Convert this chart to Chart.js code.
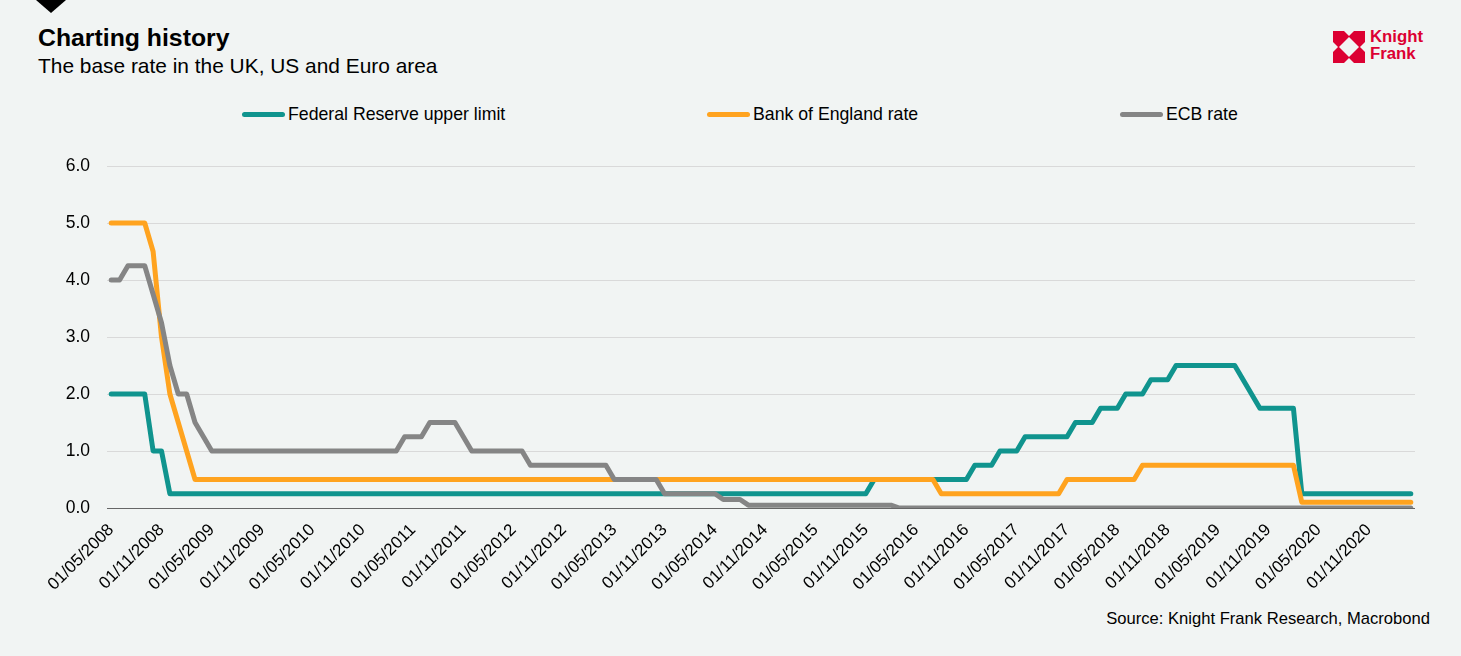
<!DOCTYPE html>
<html>
<head>
<meta charset="utf-8">
<script src="https://cdn.jsdelivr.net/npm/chart.js@4.4.1/dist/chart.umd.min.js"></script>
<style>
  html, body { margin: 0; padding: 0; background: #F1F4F3; }
  body { width: 1461px; height: 656px; position: relative; overflow: hidden;
         font-family: "Liberation Sans", Arial, sans-serif; color: #000; }
  #chart { position: absolute; left: 0; top: 0; }
  .title { position: absolute; left: 38px; top: 24px; font-size: 24.8px; font-weight: bold; white-space: nowrap; }
  .subtitle { position: absolute; left: 38px; top: 54px; font-size: 20.9px; white-space: nowrap; }
  .legend-item { position: absolute; top: 103px; height: 22px; display: flex; align-items: center;
                 font-size: 17.7px; white-space: nowrap; }
  .legend-item .sw { width: 43px; height: 5px; border-radius: 3px; margin-right: 3px; }
  .source { position: absolute; right: 31px; top: 609px; font-size: 16.6px; white-space: nowrap; }
  .tri { position: absolute; left: 0; top: 0; }
  .logo { position: absolute; left: 1333px; top: 31px; }
  .logo-text { position: absolute; left: 1370px; top: 28px; color: #DC0032; font-weight: bold;
               font-size: 16.8px; line-height: 17px; }
</style>
</head>
<body>
<svg class="tri" width="80" height="20"><polygon points="36,0 66,0 51,13" fill="#000"/></svg>
<div class="title">Charting history</div>
<div class="subtitle">The base rate in the UK, US and Euro area</div>
<svg class="logo" width="32" height="32" viewBox="0 0 32 32">
  <rect x="0" y="0" width="32" height="32" fill="#DC0032"/>
  <polygon points="16,6 26,16 16,26 6,16" fill="#F1F4F3"/>
  <polygon points="11,0 21,0 16,5" fill="#F1F4F3"/>
  <polygon points="11,32 21,32 16,27" fill="#F1F4F3"/>
  <polygon points="0,11 0,21 5,16" fill="#F1F4F3"/>
  <polygon points="32,11 32,21 27,16" fill="#F1F4F3"/>
</svg>
<div class="logo-text">Knight<br>Frank</div>
<div id="legend"></div>
<div class="source">Source: Knight Frank Research, Macrobond</div>
<canvas id="chart" width="1461" height="656"></canvas>
<script>
// ---- Data (monthly, May 2008 - Apr 2021) ----
const seriesNames = ['Federal Reserve upper limit', 'Bank of England rate', 'ECB rate'];
const seriesColors = ['#10948E', '#FFA31F', '#858585'];
const shownLabelMonths = ['05', '11'];
const yTicks = [0, 1, 2, 3, 4, 5, 6];

const fedRate = [
  // 2008 May-Dec
  2.0, 2.0, 2.0, 2.0, 2.0, 1.0, 1.0, 0.25,
  // 2009
  0.25, 0.25, 0.25, 0.25, 0.25, 0.25, 0.25, 0.25, 0.25, 0.25, 0.25, 0.25,
  // 2010
  0.25, 0.25, 0.25, 0.25, 0.25, 0.25, 0.25, 0.25, 0.25, 0.25, 0.25, 0.25,
  // 2011
  0.25, 0.25, 0.25, 0.25, 0.25, 0.25, 0.25, 0.25, 0.25, 0.25, 0.25, 0.25,
  // 2012
  0.25, 0.25, 0.25, 0.25, 0.25, 0.25, 0.25, 0.25, 0.25, 0.25, 0.25, 0.25,
  // 2013
  0.25, 0.25, 0.25, 0.25, 0.25, 0.25, 0.25, 0.25, 0.25, 0.25, 0.25, 0.25,
  // 2014
  0.25, 0.25, 0.25, 0.25, 0.25, 0.25, 0.25, 0.25, 0.25, 0.25, 0.25, 0.25,
  // 2015
  0.25, 0.25, 0.25, 0.25, 0.25, 0.25, 0.25, 0.25, 0.25, 0.25, 0.25, 0.5,
  // 2016
  0.5, 0.5, 0.5, 0.5, 0.5, 0.5, 0.5, 0.5, 0.5, 0.5, 0.5, 0.75,
  // 2017
  0.75, 0.75, 1.0, 1.0, 1.0, 1.25, 1.25, 1.25, 1.25, 1.25, 1.25, 1.5,
  // 2018
  1.5, 1.5, 1.75, 1.75, 1.75, 2.0, 2.0, 2.0, 2.25, 2.25, 2.25, 2.5,
  // 2019
  2.5, 2.5, 2.5, 2.5, 2.5, 2.5, 2.5, 2.25, 2.0, 1.75, 1.75, 1.75,
  // 2020
  1.75, 1.75, 0.25, 0.25, 0.25, 0.25, 0.25, 0.25, 0.25, 0.25, 0.25, 0.25,
  // 2021 Jan-Apr
  0.25, 0.25, 0.25, 0.25
];

const boeRate = [
  // 2008 May-Dec
  5.0, 5.0, 5.0, 5.0, 5.0, 4.5, 3.0, 2.0,
  // 2009
  1.5, 1.0, 0.5, 0.5, 0.5, 0.5, 0.5, 0.5, 0.5, 0.5, 0.5, 0.5,
  // 2010
  0.5, 0.5, 0.5, 0.5, 0.5, 0.5, 0.5, 0.5, 0.5, 0.5, 0.5, 0.5,
  // 2011
  0.5, 0.5, 0.5, 0.5, 0.5, 0.5, 0.5, 0.5, 0.5, 0.5, 0.5, 0.5,
  // 2012
  0.5, 0.5, 0.5, 0.5, 0.5, 0.5, 0.5, 0.5, 0.5, 0.5, 0.5, 0.5,
  // 2013
  0.5, 0.5, 0.5, 0.5, 0.5, 0.5, 0.5, 0.5, 0.5, 0.5, 0.5, 0.5,
  // 2014
  0.5, 0.5, 0.5, 0.5, 0.5, 0.5, 0.5, 0.5, 0.5, 0.5, 0.5, 0.5,
  // 2015
  0.5, 0.5, 0.5, 0.5, 0.5, 0.5, 0.5, 0.5, 0.5, 0.5, 0.5, 0.5,
  // 2016
  0.5, 0.5, 0.5, 0.5, 0.5, 0.5, 0.5, 0.25, 0.25, 0.25, 0.25, 0.25,
  // 2017
  0.25, 0.25, 0.25, 0.25, 0.25, 0.25, 0.25, 0.25, 0.25, 0.25, 0.5, 0.5,
  // 2018
  0.5, 0.5, 0.5, 0.5, 0.5, 0.5, 0.5, 0.75, 0.75, 0.75, 0.75, 0.75,
  // 2019
  0.75, 0.75, 0.75, 0.75, 0.75, 0.75, 0.75, 0.75, 0.75, 0.75, 0.75, 0.75,
  // 2020
  0.75, 0.75, 0.1, 0.1, 0.1, 0.1, 0.1, 0.1, 0.1, 0.1, 0.1, 0.1,
  // 2021 Jan-Apr
  0.1, 0.1, 0.1, 0.1
];

const ecbRate = [
  // 2008 May-Dec
  4.0, 4.0, 4.25, 4.25, 4.25, 3.75, 3.25, 2.5,
  // 2009
  2.0, 2.0, 1.5, 1.25, 1.0, 1.0, 1.0, 1.0, 1.0, 1.0, 1.0, 1.0,
  // 2010
  1.0, 1.0, 1.0, 1.0, 1.0, 1.0, 1.0, 1.0, 1.0, 1.0, 1.0, 1.0,
  // 2011
  1.0, 1.0, 1.0, 1.25, 1.25, 1.25, 1.5, 1.5, 1.5, 1.5, 1.25, 1.0,
  // 2012
  1.0, 1.0, 1.0, 1.0, 1.0, 1.0, 0.75, 0.75, 0.75, 0.75, 0.75, 0.75,
  // 2013
  0.75, 0.75, 0.75, 0.75, 0.5, 0.5, 0.5, 0.5, 0.5, 0.5, 0.25, 0.25,
  // 2014
  0.25, 0.25, 0.25, 0.25, 0.25, 0.15, 0.15, 0.15, 0.05, 0.05, 0.05, 0.05,
  // 2015
  0.05, 0.05, 0.05, 0.05, 0.05, 0.05, 0.05, 0.05, 0.05, 0.05, 0.05, 0.05,
  // 2016
  0.05, 0.05, 0.0, 0.0, 0.0, 0.0, 0.0, 0.0, 0.0, 0.0, 0.0, 0.0,
  // 2017
  0, 0, 0, 0, 0, 0, 0, 0, 0, 0, 0, 0,
  // 2018
  0, 0, 0, 0, 0, 0, 0, 0, 0, 0, 0, 0,
  // 2019
  0, 0, 0, 0, 0, 0, 0, 0, 0, 0, 0, 0,
  // 2020
  0, 0, 0, 0, 0, 0, 0, 0, 0, 0, 0, 0,
  // 2021 Jan-Apr
  0, 0, 0, 0
];

// Category labels: first of each month, dd/mm/yyyy
const categories = [];
for (let k = 0; k < fedRate.length; k++) {
  const m0 = 4 + k;               // May 2008 -> month index 4
  const yr = 2008 + Math.floor(m0 / 12);
  const mo = (m0 % 12) + 1;
  categories.push('01/' + String(mo).padStart(2, '0') + '/' + yr);
}

// ---- Legend (HTML) ----
const legendX = [242, 707, 1120];
const legend = document.getElementById('legend');
seriesNames.forEach((name, i) => {
  const el = document.createElement('div');
  el.className = 'legend-item';
  el.style.left = legendX[i] + 'px';
  el.innerHTML = '<span class="sw" style="background:' + seriesColors[i] + '"></span><span>' + name + '</span>';
  legend.appendChild(el);
});

const FONT = '"Liberation Sans", Arial, sans-serif';
const seriesData = [fedRate, boeRate, ecbRate];
const drawOrder = [3, 2, 1];

new Chart(document.getElementById('chart'), {
  type: 'line',
  data: {
    labels: categories,
    datasets: seriesNames.map((name, i) => ({
      label: name,
      data: seriesData[i],
      borderColor: seriesColors[i],
      backgroundColor: seriesColors[i],
      order: drawOrder[i]
    }))
  },
  options: {
    responsive: false,
    animation: false,
    devicePixelRatio: 1,
    layout: { padding: { top: 166, left: 0, right: 46, bottom: 38 } },
    elements: {
      line: { borderWidth: 5, tension: 0, borderCapStyle: 'round', borderJoinStyle: 'round' },
      point: { radius: 0, hoverRadius: 0 }
    },
    plugins: { legend: { display: false }, tooltip: { enabled: false } },
    scales: {
      x: {
        type: 'category',
        offset: true,
        grid: { display: false, drawTicks: false },
        border: { display: false },
        ticks: {
          autoSkip: false, minRotation: 45, maxRotation: 45, padding: 12,
          color: '#000', font: { family: FONT, size: 17 },
          callback: function (v, idx) {
            const lab = categories[idx];
            return shownLabelMonths.includes(lab.substr(3, 2)) ? lab : '';
          }
        },
        afterFit: function (s) { s.height = 110; }
      },
      y: {
        min: 0, max: 6,
        afterBuildTicks: function (s) { s.ticks = yTicks.map(v => ({ value: v })); },
        grid: {
          drawTicks: false, lineWidth: 1,
          color: (c) => (c.tick && c.tick.value === 0) ? '#666666' : '#D9D9D9'
        },
        border: { display: false },
        ticks: {
          padding: 17, color: '#000', font: { family: FONT, size: 17.5 },
          callback: (v) => Number(v).toFixed(1)
        },
        afterFit: function (s) { s.width = 107; }
      }
    }
  }
});
</script>
</body>
</html>
